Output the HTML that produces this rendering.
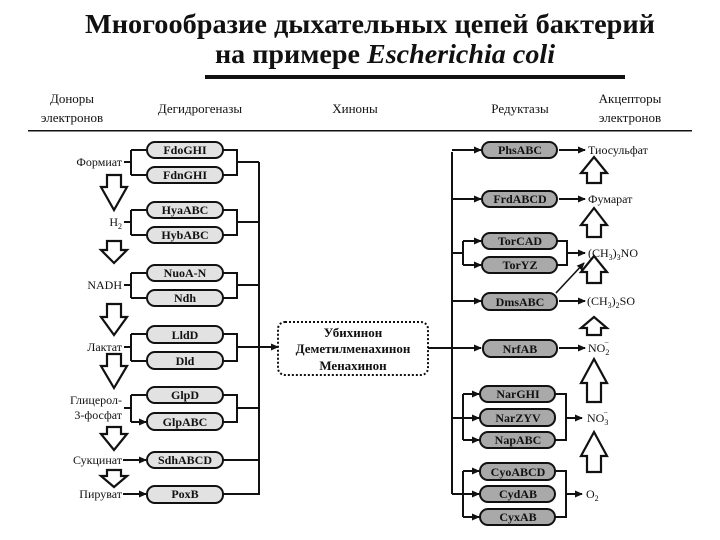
<!DOCTYPE html>
<html><head><meta charset="utf-8"><style>
html,body{margin:0;padding:0;background:#fff;width:720px;height:540px;overflow:hidden}
svg{display:block}
text{font-family:"Liberation Serif","DejaVu Serif",serif;fill:#111}
.b{font-weight:bold;font-size:12px}
.l{font-size:12px}
.h{font-size:13px}
</style></head><body>
<svg width="720" height="540" viewBox="0 0 720 540" xmlns="http://www.w3.org/2000/svg">
<defs>
<marker id="a" markerWidth="8" markerHeight="8" refX="7" refY="4" orient="auto" markerUnits="userSpaceOnUse">
<path d="M0,0.5 L8,4 L0,7.5 z" fill="#111"/></marker>
</defs>
<text x="370" y="33" text-anchor="middle" font-size="27" font-weight="bold" textLength="570" lengthAdjust="spacingAndGlyphs">Многообразие дыхательных цепей бактерий</text>
<text x="385" y="63" text-anchor="middle" font-size="27" font-weight="bold" textLength="340" lengthAdjust="spacingAndGlyphs">на примере <tspan font-style="italic">Escherichia coli</tspan></text>
<rect x="205" y="75" width="420" height="4" fill="#111"/>
<g class="h">
<text x="72" y="103" text-anchor="middle">Доноры</text>
<text x="72" y="122" text-anchor="middle">электронов</text>
<text x="200" y="113" text-anchor="middle">Дегидрогеназы</text>
<text x="355" y="113" text-anchor="middle">Хиноны</text>
<text x="520" y="113" text-anchor="middle">Редуктазы</text>
<text x="630" y="103" text-anchor="middle">Акцепторы</text>
<text x="630" y="122" text-anchor="middle">электронов</text>
</g>
<rect x="28" y="130" width="664" height="1.5" fill="#111"/>

<g stroke="#111" stroke-width="2" fill="none">
<!-- left main vertical -->
<path d="M259,162 V495"/>
<!-- pairs: centers -->
<path d="M223,150 H237 V175 H223 M237,162 H259"/>
<path d="M223,210 H237 V235 H223 M237,222 H259"/>
<path d="M223,273 H237 V298 H223 M237,285 H259"/>
<path d="M223,334 H237 V361 H223 M237,347 H259"/>
<path d="M223,395 H237 V422 H223 M237,408 H259"/>
<path d="M223,460 H259 M223,494 H259"/>
<!-- donors left brackets -->
<path d="M124,162 H131 M131,150 V175"/>
<path d="M124,222 H131 M131,210 V235"/>
<path d="M124,285 H131 M131,273 V298"/>
<path d="M124,347 H131 M131,334 V361"/>
<path d="M124,408 H131 M131,395 V422"/>
<path d="M131,150 H146 M131,175 H146 M131,210 H146 M131,235 H146 M131,273 H146 M131,298 H146 M131,334 H146 M131,361 H146 M131,395 H146 M131,422 H146" marker-end="url(#a)"/>
<path d="M123,460 H146" marker-end="url(#a)"/>
<path d="M123,494 H146" marker-end="url(#a)"/>
<path d="M259,347 H278" marker-end="url(#a)"/>
<!-- right side -->
<path d="M428,348 H452 M452,152 V494"/>
<path d="M452,150 H481" marker-end="url(#a)"/>
<path d="M452,199 H481" marker-end="url(#a)"/>
<path d="M452,301 H481" marker-end="url(#a)"/>
<path d="M452,348 H481" marker-end="url(#a)"/>
<path d="M452,253 H463 M463,241 V265 M452,418 H479 M463,394 V440 M452,494 H479 M463,471 V517"/>
<path d="M463,241 H481" marker-end="url(#a)"/>
<path d="M463,265 H481" marker-end="url(#a)"/>
<path d="M452,418 H479" marker-end="url(#a)"/>
<path d="M463,394 H479" marker-end="url(#a)"/>
<path d="M463,440 H479" marker-end="url(#a)"/>
<path d="M452,494 H479" marker-end="url(#a)"/>
<path d="M463,471 H479" marker-end="url(#a)"/>
<path d="M463,517 H479" marker-end="url(#a)"/>
<!-- right brackets -->
<path d="M557,241 H567 V265 H557 M555,394 H566 V440 H555 M555,471 H566 V517 H555"/>
<path d="M559,150 H585" marker-end="url(#a)"/>
<path d="M559,199 H585" marker-end="url(#a)"/>
<path d="M567,253 H585" marker-end="url(#a)"/>
<path d="M559,301 H585" marker-end="url(#a)"/>
<path d="M556,293 L584,263" stroke-width="1.6" marker-end="url(#a)"/>
<path d="M559,348 H585" marker-end="url(#a)"/>
<path d="M566,418 H582" marker-end="url(#a)"/>
<path d="M566,494 H582" marker-end="url(#a)"/>
</g>

<!-- quinone box -->
<rect x="278" y="322" width="150" height="53" rx="7" fill="#fff" stroke="#111" stroke-width="2" stroke-dasharray="2,2"/>
<g class="b" font-size="13" text-anchor="middle">
<text x="353" y="337" font-size="13">Убихинон</text>
<text x="353" y="353" font-size="13">Деметилменахинон</text>
<text x="353" y="370" font-size="13">Менахинон</text>
</g>

<!-- left boxes -->
<g fill="#e2e2e2" stroke="#111" stroke-width="2">
<rect x="147" y="142" width="76" height="16" rx="8"/>
<rect x="147" y="167" width="76" height="16" rx="8"/>
<rect x="147" y="202" width="76" height="16" rx="8"/>
<rect x="147" y="227" width="76" height="16" rx="8"/>
<rect x="147" y="265" width="76" height="16" rx="8"/>
<rect x="147" y="290" width="76" height="16" rx="8"/>
<rect x="147" y="326" width="76" height="17" rx="8"/>
<rect x="147" y="352" width="76" height="17" rx="8"/>
<rect x="147" y="387" width="76" height="16" rx="8"/>
<rect x="147" y="413" width="76" height="17" rx="8"/>
<rect x="147" y="452" width="76" height="16" rx="8"/>
<rect x="147" y="486" width="76" height="17" rx="8"/>
</g>
<g class="b" text-anchor="middle">
<text x="185" y="154">FdoGHI</text>
<text x="185" y="179">FdnGHI</text>
<text x="185" y="214">HyaABC</text>
<text x="185" y="239">HybABC</text>
<text x="185" y="277">NuoA-N</text>
<text x="185" y="302">Ndh</text>
<text x="185" y="339">LldD</text>
<text x="185" y="365">Dld</text>
<text x="185" y="399">GlpD</text>
<text x="185" y="426">GlpABC</text>
<text x="185" y="464">SdhABCD</text>
<text x="185" y="498">PoxB</text>
</g>

<!-- right boxes -->
<g fill="#a9a9a9" stroke="#111" stroke-width="2">
<rect x="482" y="142" width="75" height="16" rx="8"/>
<rect x="482" y="191" width="75" height="16" rx="8"/>
<rect x="482" y="233" width="75" height="16" rx="8"/>
<rect x="482" y="257" width="75" height="16" rx="8"/>
<rect x="482" y="293" width="75" height="17" rx="8"/>
<rect x="483" y="340" width="74" height="17" rx="8"/>
<rect x="480" y="386" width="75" height="16" rx="8"/>
<rect x="480" y="409" width="75" height="17" rx="8"/>
<rect x="480" y="432" width="75" height="16" rx="8"/>
<rect x="480" y="463" width="75" height="17" rx="8"/>
<rect x="480" y="486" width="75" height="16" rx="8"/>
<rect x="480" y="509" width="75" height="16" rx="8"/>
</g>
<g class="b" text-anchor="middle">
<text x="520" y="154">PhsABC</text>
<text x="520" y="203">FrdABCD</text>
<text x="520" y="245">TorCAD</text>
<text x="520" y="269">TorYZ</text>
<text x="520" y="306">DmsABC</text>
<text x="520" y="353">NrfAB</text>
<text x="518" y="398">NarGHI</text>
<text x="518" y="422">NarZYV</text>
<text x="518" y="444">NapABC</text>
<text x="518" y="476">CyoABCD</text>
<text x="518" y="498">CydAB</text>
<text x="518" y="521">CyxAB</text>
</g>

<!-- donor labels -->
<g class="l" text-anchor="end">
<text x="122" y="166">Формиат</text>
<text x="122" y="226">H<tspan font-size="8" dy="3">2</tspan></text>
<text x="122" y="289">NADH</text>
<text x="122" y="351">Лактат</text>
<text x="122" y="404">Глицерол-</text>
<text x="122" y="419">3-фосфат</text>
<text x="122" y="464">Сукцинат</text>
<text x="122" y="498">Пируват</text>
</g>
<!-- acceptor labels -->
<g class="l">
<text x="588" y="154">Тиосульфат</text>
<text x="588" y="203">Фумарат</text>
<text x="588" y="257">(CH<tspan font-size="8" dy="3">3</tspan><tspan dy="-3">)</tspan><tspan font-size="8" dy="3">3</tspan><tspan dy="-3">NO</tspan></text>
<text x="587" y="305">(CH<tspan font-size="8" dy="3">3</tspan><tspan dy="-3">)</tspan><tspan font-size="8" dy="3">2</tspan><tspan dy="-3">SO</tspan></text>
<text x="588" y="352">NO<tspan font-size="8" dy="3">2</tspan><tspan font-size="8" dx="-5" dy="-10">−</tspan></text>
<text x="587" y="422">NO<tspan font-size="8" dy="3">3</tspan><tspan font-size="8" dx="-5" dy="-10">−</tspan></text>
<text x="586" y="498">O<tspan font-size="8" dy="3">2</tspan></text>
</g>

<!-- hollow down arrows (left) -->
<g fill="#fff" stroke="#111" stroke-width="2.2" stroke-linejoin="miter">
<path d="M107,175 H121 V187 H127 L114,210 L101,187 H107 Z"/>
<path d="M107,241 H121 V250 H127 L114,263 L101,250 H107 Z"/>
<path d="M107,304 H121 V317 H127 L114,335 L101,317 H107 Z"/>
<path d="M107,354 H121 V366 H127 L114,388 L101,366 H107 Z"/>
<path d="M107,427 H121 V434 H127 L114,450 L101,434 H107 Z"/>
<path d="M107,470 H121 V476 H127 L114,487 L101,476 H107 Z"/>
</g>
<!-- hollow up arrows (right) -->
<g fill="#fff" stroke="#111" stroke-width="2.2" stroke-linejoin="miter">
<path d="M594,157 L607,173 H601 V183 H587 V173 H581 Z"/>
<path d="M594,208 L607,225 H601 V237 H587 V225 H581 Z"/>
<path d="M594,256 L607,272 H601 V283 H587 V272 H581 Z"/>
<path d="M594,317 L607,328 H601 V335 H587 V328 H581 Z"/>
<path d="M594,359 L607,383 H601 V402 H587 V383 H581 Z"/>
<path d="M594,432 L607,456 H601 V472 H587 V456 H581 Z"/>
</g>
</svg>
</body></html>
